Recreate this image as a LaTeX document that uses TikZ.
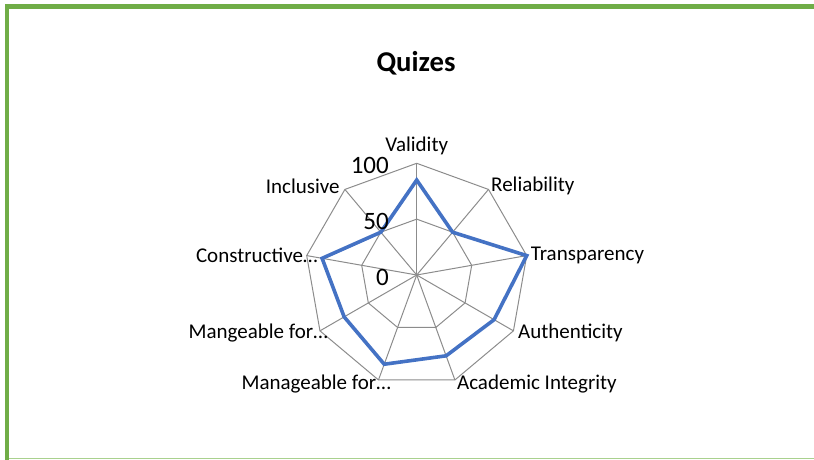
\documentclass[tikz,border=0pt]{standalone}
\usepackage{fontspec}
\setmainfont{Carlito}
\usetikzlibrary{calc}
\definecolor{framegreen}{HTML}{70AD47}
\definecolor{framelight}{HTML}{A9D18E}
\definecolor{seriesblue}{HTML}{4472C4}
\definecolor{gridgray}{HTML}{8C8C8C}

\begin{document}
\begin{tikzpicture}[x=1pt,y=1pt,
    gridline/.style={draw=gridgray, line width=1pt},
    series/.style={draw=seriesblue, line width=3.6pt},
    axislabel/.style={font=\fontsize{21}{25}\selectfont, inner sep=0pt},
    ticklabel/.style={font=\fontsize{25}{30}\selectfont, inner sep=0pt, anchor=east},
    charttitle/.style={font=\fontsize{28.7}{34}\selectfont\bfseries, inner sep=0pt}]
\useasboundingbox (0,0) rectangle (814,460);
% frame
\fill[framegreen] (5,451) rectangle (814,456);
\fill[framegreen] (5,0) rectangle (9,456);
\draw[framelight, line width=1pt] (9,1.5) -- (814,1.5);

\node[charttitle] (title) at (416,397) {Quizes};

% grid
\coordinate (c) at (416.7,185);
\foreach \i in {0,...,8} {
    \coordinate (o\i) at ($(c)+({90-40*\i}:111.7)$);
    \coordinate (m\i) at ($(c)+({90-40*\i}:55.85)$);
}
\foreach \i in {0,...,8}
    \draw[gridline] (c) -- (o\i);
\draw[gridline] (o0) \foreach \i in {1,...,8} {-- (o\i)} -- cycle;
\draw[gridline] (m0) \foreach \i in {1,...,8} {-- (m\i)} -- cycle;

% data
\foreach \v [count=\i from 0] in {85,50,100,80,77,85,75,86,50}
    \coordinate (s\i) at ($(c)+({90-40*\i}:{1.117*\v})$);
\draw[series] (s0) \foreach \i in {1,...,8} {-- (s\i)} -- cycle;

% tick labels
\node[ticklabel] (t100) at ($(c)+(-27.7,110)$) {100};
\node[ticklabel] (t50) at ($(c)+(-27.7,53.3)$) {50};
\node[ticklabel] (t0) at ($(c)+(-27.7,-2.7)$) {0};

% category labels
\node[axislabel, anchor=south] (validity) at ($(o0)+(0,8)$) {Validity};
\node[axislabel, anchor=west] (reliability) at ($(o1)+(2.5,3.4)$) {Reliability};
\node[axislabel, anchor=west] (transparency) at ($(o2)+(4,0.6)$) {Transparency};
\node[axislabel, anchor=west] (authenticity) at ($(o3)+(4.6,-2)$) {Authenticity};
\node[axislabel, anchor=west] (integrity) at ($(o4)+(2,-4)$) {Academic Integrity};
\node[axislabel, anchor=east] (manageable) at ($(o5)+(12.5,-4)$) {Manageable for…};
\node[axislabel, anchor=east] (mangeable) at ($(o6)+(8,-2)$) {Mangeable for…};
\node[axislabel, anchor=east] (constructive) at ($(o7)+(11,0.6)$) {Constructive…};
\node[axislabel, anchor=east] (inclusive) at ($(o8)+(-5,3.4)$) {Inclusive};
\end{tikzpicture}
\end{document}
